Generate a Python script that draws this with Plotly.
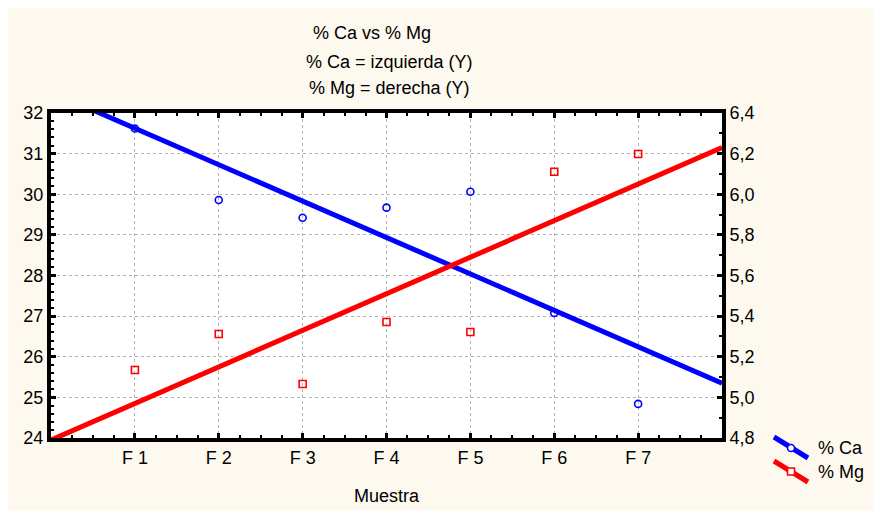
import plotly.graph_objects as go

# ---- data ----
muestras = ["F 1", "F 2", "F 3", "F 4", "F 5", "F 6", "F 7"]
x_pos = [1, 2, 3, 4, 5, 6, 7]
ca = [31.62, 29.86, 29.42, 29.67, 30.06, 27.08, 24.84]
mg = [5.135, 5.312, 5.066, 5.371, 5.322, 6.111, 6.198]
fit_x = [0, 8]
ca_fit = [32.52, 25.35]
mg_fit = [4.79, 6.23]
left_ticks = [24, 25, 26, 27, 28, 29, 30, 31, 32]
right_ticks = [4.8, 5.0, 5.2, 5.4, 5.6, 5.8, 6.0, 6.2, 6.4]

OFF = 8                      # page body margin
W, H = 881, 510
L, R, T, B = 51, 722, 113, 438  # plot area in page pixels
FONT = "Liberation Sans, Arial, sans-serif"
FS = 18
BLUE = "#0000ff"
RED = "#ff0000"
CREAM = "#fdf9ee"


def px(xp):
    return (xp - L) / (R - L)


def py(yp):
    return (B - yp) / (B - T)


fig = go.Figure()
fig.add_trace(go.Scatter(x=fit_x, y=ca_fit, mode="lines", line=dict(color=BLUE, width=5),
                         showlegend=False, hoverinfo="skip"))
fig.add_trace(go.Scatter(x=x_pos, y=ca, mode="markers", name="% Ca",
                         marker=dict(symbol="circle-open", color=BLUE, size=7, line=dict(width=1.6)),
                         showlegend=False))
fig.add_trace(go.Scatter(x=fit_x, y=mg_fit, mode="lines", yaxis="y2", line=dict(color=RED, width=5),
                         showlegend=False, hoverinfo="skip"))
fig.add_trace(go.Scatter(x=x_pos, y=mg, mode="markers", yaxis="y2", name="% Mg",
                         marker=dict(symbol="square-open", color=RED, size=7, line=dict(width=1.6)),
                         showlegend=False))

axis_common = dict(showline=True, linecolor="black", linewidth=4, ticks="inside",
                   tickcolor="black", tickwidth=3, ticklen=5, zeroline=False,
                   tickfont=dict(family=FONT, size=FS, color="black"))

fig.update_layout(
    width=W, height=H,
    margin=dict(l=L - OFF, r=W + OFF - R, t=T - OFF, b=H + OFF - B, pad=0),
    paper_bgcolor=CREAM, plot_bgcolor="white",
    separators=",.",
    font=dict(family=FONT, size=FS, color="black"),
    xaxis=dict(range=[0, 8], tickvals=x_pos, ticktext=muestras, mirror="ticks",
               showgrid=True, gridcolor="#b4b4b4", gridwidth=1, griddash="3px,3px",
               minor=dict(dtick=0.25, tick0=0, ticks="inside", ticklen=3, tickwidth=2,
                          tickcolor="black", showgrid=False),
               title=dict(text="Muestra", font=dict(family=FONT, size=FS), standoff=24),
               **axis_common),
    yaxis=dict(range=[24, 32], tickvals=left_ticks, showgrid=True, gridcolor="#b4b4b4",
               gridwidth=1, griddash="3px,3px",
               minor=dict(dtick=0.2, tick0=24, ticks="inside", ticklen=3, tickwidth=2,
                          tickcolor="black", showgrid=False),
               **axis_common),
    yaxis2=dict(range=[4.8, 6.4], tickvals=right_ticks, tickformat=".1f", overlaying="y",
                side="right", showgrid=False,
                minor=dict(dtick=0.1, tick0=4.8, ticks="inside", ticklen=3, tickwidth=2,
                           tickcolor="black", showgrid=False),
                **axis_common),
)

shapes = [
    # legend symbols
    dict(type="line", xref="paper", yref="paper", x0=px(774), y0=py(437), x1=px(808), y1=py(458),
         line=dict(color=BLUE, width=5)),
    dict(type="circle", xref="paper", yref="paper", x0=px(787.5), y0=py(444.5), x1=px(794.5), y1=py(451.5),
         fillcolor="white", line=dict(color=BLUE, width=1.6)),
    dict(type="line", xref="paper", yref="paper", x0=px(774), y0=py(461), x1=px(808), y1=py(482),
         line=dict(color=RED, width=5)),
    dict(type="rect", xref="paper", yref="paper", x0=px(787.5), y0=py(468), x1=px(794.5), y1=py(475),
         fillcolor="white", line=dict(color=RED, width=1.6)),
]
fig.update_layout(shapes=shapes)

annots = [
    dict(text="% Ca vs % Mg", x=px(372), y=py(33)),
    dict(text="% Ca = izquierda (Y)", x=px(389), y=py(62)),
    dict(text="% Mg = derecha (Y)", x=px(389), y=py(88)),
]
for a in annots:
    fig.add_annotation(xref="paper", yref="paper", showarrow=False, xanchor="center",
                       yanchor="middle", font=dict(family=FONT, size=FS, color="black"), **a)
for txt, yp in [("% Ca", 448), ("% Mg", 471.5)]:
    fig.add_annotation(text=txt, xref="paper", yref="paper", x=px(816), y=py(yp), showarrow=False,
                       xanchor="left", yanchor="middle", font=dict(family=FONT, size=FS, color="black"))

fig.write_html("out.html")
